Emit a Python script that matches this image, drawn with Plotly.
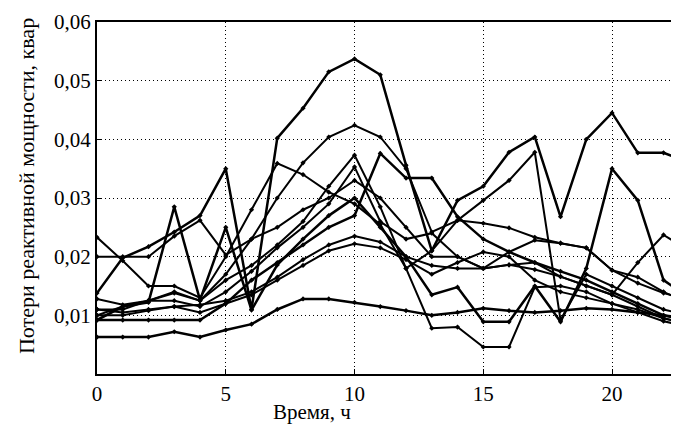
import plotly.graph_objects as go

hours = list(range(24))

s1 = [0.0138,0.0198,0.0217,0.0242,0.0270,0.0350,0.0110,0.0402,0.0453,0.0515,0.0537,0.0510,0.0356,0.0210,0.0296,0.0320,0.0378,0.0404,0.0268,0.0400,0.0445,0.0377,0.0377,0.0360]
s2 = [0.0128,0.0118,0.0125,0.0138,0.0125,0.0170,0.0230,0.0300,0.0360,0.0404,0.0424,0.0404,0.0350,0.0242,0.0262,0.0296,0.0330,0.0378,0.0092,0.0170,0.0150,0.0130,0.0110,0.0100]
s3 = [0.0233,0.0193,0.0150,0.0150,0.0130,0.0200,0.0280,0.0359,0.0340,0.0310,0.0290,0.0255,0.0180,0.0210,0.0262,0.0257,0.0249,0.0233,0.0223,0.0215,0.0177,0.0155,0.0138,0.0126]
s4 = [0.0100,0.0115,0.0125,0.0140,0.0125,0.0160,0.0185,0.0220,0.0260,0.0320,0.0373,0.0285,0.0180,0.0078,0.0080,0.0046,0.0046,0.0148,0.0150,0.0140,0.0120,0.0110,0.0095,0.0085]
s5 = [0.0092,0.0092,0.0092,0.0092,0.0092,0.0120,0.0160,0.0190,0.0220,0.0250,0.0270,0.0376,0.0334,0.0334,0.0268,0.0230,0.0208,0.0190,0.0175,0.0160,0.0140,0.0120,0.0100,0.0090]
s6 = [0.0110,0.0110,0.0125,0.0125,0.0115,0.0140,0.0175,0.0215,0.0250,0.0290,0.0353,0.0260,0.0230,0.0240,0.0200,0.0180,0.0208,0.0228,0.0223,0.0215,0.0177,0.0165,0.0140,0.0120]
s7 = [0.0092,0.0115,0.0122,0.0285,0.0126,0.0250,0.0109,0.0186,0.0230,0.0270,0.0300,0.0250,0.0200,0.0135,0.0148,0.0089,0.0089,0.0150,0.0089,0.0180,0.0350,0.0296,0.0160,0.0130]
s8 = [0.0200,0.0200,0.0200,0.0235,0.0262,0.0203,0.0230,0.0250,0.0280,0.0300,0.0330,0.0300,0.0250,0.0200,0.0200,0.0180,0.0186,0.0190,0.0166,0.0150,0.0135,0.0190,0.0237,0.0210]
s9 = [0.0063,0.0063,0.0063,0.0072,0.0063,0.0075,0.0085,0.0110,0.0128,0.0128,0.0122,0.0115,0.0108,0.0100,0.0105,0.0112,0.0108,0.0105,0.0108,0.0112,0.0110,0.0105,0.0100,0.0095]
s10 = [0.0110,0.0105,0.0110,0.0115,0.0118,0.0125,0.0140,0.0165,0.0195,0.0220,0.0235,0.0225,0.0200,0.0185,0.0180,0.0180,0.0186,0.0178,0.0166,0.0150,0.0135,0.0115,0.0095,0.0085]
s11 = [0.0100,0.0100,0.0108,0.0115,0.0105,0.0120,0.0135,0.0160,0.0185,0.0210,0.0222,0.0215,0.0195,0.0170,0.0190,0.0208,0.0200,0.0160,0.0140,0.0130,0.0120,0.0105,0.0090,0.0080]

series = [s1, s2, s3, s4, s5, s6, s7, s8, s9, s10, s11]
widths = [2.5, 2, 2, 2, 2.5, 2, 2.5, 2, 2.5, 2, 2]

x_ticks = [0, 5, 10, 15, 20]
y_ticks = [0.01, 0.02, 0.03, 0.04, 0.05, 0.06]
y_labels = ["0,01", "0,02", "0,03", "0,04", "0,05", "0,06"]
x_title = "Время, ч"
y_title = "Потери реактивной мощности, квар"

fig = go.Figure()
for s, w in zip(series, widths):
    fig.add_trace(go.Scatter(
        x=hours, y=s, mode="lines+markers",
        line=dict(color="black", width=w),
        marker=dict(color="black", size=4, symbol="diamond"),
        showlegend=False,
    ))

FAM = "Times New Roman, Liberation Serif, DejaVu Serif, serif"
font = dict(family=FAM, size=21, color="black")
grid = dict(showgrid=True, gridcolor="black", griddash="1px,3px", gridwidth=1,
            showline=True, linecolor="black", linewidth=2,
            ticks="inside", ticklen=5, tickcolor="black",
            zeroline=False, automargin=False, tickfont=font)

fig.update_layout(
    width=679, height=432,
    margin=dict(l=89, r=8, t=14, b=66),
    paper_bgcolor="white", plot_bgcolor="white",
    font=font,
    xaxis=dict(range=[0, 22.6], tickvals=x_ticks, ticktext=[str(v) for v in x_ticks],
               mirror=True, **grid),
    yaxis=dict(range=[0, 0.06], tickvals=y_ticks, ticktext=y_labels, **grid),
    annotations=[
        dict(text=x_title, xref="paper", yref="paper", x=0.369, y=-0.109,
             xanchor="center", yanchor="middle", showarrow=False,
             font=dict(family=FAM, size=21, color="black")),
        dict(text=y_title, xref="paper", yref="paper", x=-0.122, y=0.534,
             xanchor="center", yanchor="middle", showarrow=False, textangle=-90,
             font=dict(family=FAM, size=22, color="black")),
    ],
)

fig.write_html("out.html")
